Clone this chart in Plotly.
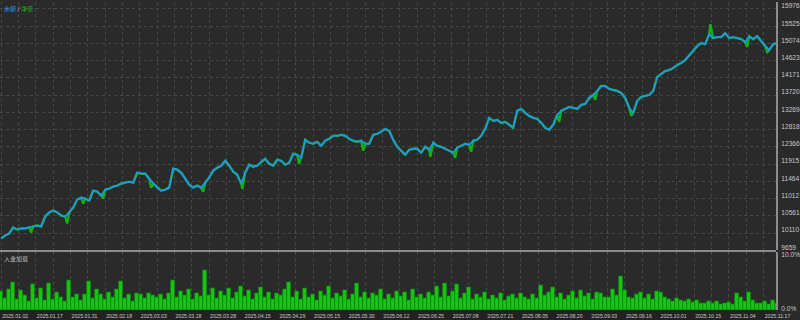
import plotly.graph_objects as go

# ---------------- data ----------------
DATE_LABELS = ["2025.01.02", "2025.01.17", "2025.01.31", "2025.02.18", "2025.03.03",
               "2025.03.18", "2025.03.28", "2025.04.15", "2025.04.29", "2025.05.15",
               "2025.05.30", "2025.06.12", "2025.06.25", "2025.07.08", "2025.07.21",
               "2025.08.05", "2025.08.20", "2025.09.03", "2025.09.16", "2025.10.01",
               "2025.10.15", "2025.11.04", "2025.11.17"]

PRICE_TICKS = ["9659", "10110", "10561", "11012", "11464", "11915", "12366", "12818",
               "13269", "13720", "14171", "14623", "15074", "15525", "15976"]

LOAD_TICKS = [0, 10]
LOAD_TICK_TEXT = ["0.0%", "10.0%"]

BALANCE = [
    9972, 10050, 10102, 10259, 10206, 10233, 10233, 10259, 10285, 10311,
    10285, 10545, 10650, 10702, 10650, 10571, 10545, 10650, 10780, 10989,
    11041, 11015, 10963, 11223, 11197, 11093, 11249, 11275, 11327, 11354,
    11406, 11432, 11458, 11432, 11692, 11666, 11666, 11536, 11406, 11301,
    11223, 11249, 11301, 11797, 11771, 11692, 11536, 11380, 11301, 11354,
    11301, 11432, 11562, 11745, 11823, 11875, 12005, 11875, 11719, 11640,
    11406, 11692, 11901, 11849, 11875, 11979, 12057, 11927, 11875, 12031,
    12005, 11901, 11953, 12188, 12162, 12084, 12553, 12475, 12448, 12501,
    12396, 12527, 12579, 12657, 12657, 12683, 12657, 12579, 12527, 12501,
    12527, 12448, 12448, 12683, 12709, 12761, 12840, 12787, 12553, 12370,
    12266, 12162, 12292, 12318, 12318, 12214, 12370, 12292, 12475, 12396,
    12370, 12318, 12266, 12214, 12344, 12396, 12448, 12422, 12527, 12553,
    12657, 12840, 13126, 13048, 13074, 12996, 13022, 12944, 12866, 13309,
    13361, 13257, 13178, 13126, 13100, 12996, 12866, 12813, 12944, 13205,
    13309, 13361, 13413, 13387, 13361, 13465, 13491, 13648, 13726, 13830,
    13961, 13961, 13882, 13856, 13830, 13778, 13648, 13387, 13257, 13570,
    13674, 13700, 13726, 13830, 14195, 14273, 14352, 14378, 14430, 14508,
    14560, 14638, 14769, 14899, 15003, 15082, 15055, 15316, 15212, 15238,
    15238, 15342, 15212, 15238, 15212, 15186, 15108, 15264, 15186, 15264,
    15134, 15003, 14899, 15055, 15082,
]

# equity deviations from balance (position in bar units, equity value)
EQUITY_DEV_AT = [7.5, 16.5, 20.5, 25.5, 37.5, 50.5, 60.3, 74.5, 90.5, 107.3,
                 113.5, 117.5, 139.5, 148.5, 157.5, 177.3, 186.5, 191.5]
EQUITY_DEV_VAL = [10128, 10363, 10884, 11015, 11301, 11197, 11275, 11927, 12266, 12110,
                  12084, 12240, 13022, 13596, 13178, 15577, 14977, 14847]

DEPOSIT_LOAD = [
    3.5, 2.2, 3.8, 5.0, 2.0, 3.6, 2.6, 1.5, 4.6, 2.2,
    3.9, 1.8, 4.9, 2.0, 3.2, 2.4, 1.6, 5.4, 2.3, 2.9,
    1.7, 2.8, 5.2, 2.1, 3.8, 2.9, 1.9, 3.3, 2.4, 3.8,
    5.3, 2.2, 2.9, 1.6, 3.0, 2.9, 2.1, 3.0, 2.6, 2.3,
    2.8, 1.9, 3.0, 5.5, 2.4, 3.4, 2.6, 3.8, 2.0, 3.1,
    2.5, 7.2, 2.6, 3.9, 2.1, 3.4, 2.7, 4.0, 2.2, 3.2,
    4.3, 2.5, 3.6, 2.0, 3.1, 4.1, 2.4, 3.3, 1.9, 3.0,
    2.6, 3.7, 5.0, 2.3, 3.4, 2.0, 3.9, 2.4, 2.9, 1.8,
    3.5, 2.7, 4.4, 2.2, 3.1, 2.5, 3.6, 2.0, 2.9, 4.9,
    2.3, 3.2, 2.1, 3.0, 2.6, 3.8, 1.9, 2.8, 2.2, 3.4,
    2.5, 3.2, 1.8, 3.7, 2.4, 2.9, 2.1, 3.3, 2.6, 4.4,
    2.3, 4.8, 2.5, 3.5, 4.6, 2.2, 3.0, 4.2, 2.0, 2.8,
    2.3, 3.3, 1.9, 2.6, 2.2, 3.0, 1.8, 2.5, 2.9, 2.1,
    3.1, 2.4, 1.9, 2.8, 2.2, 4.5, 2.6, 3.2, 4.2, 2.3,
    3.0, 2.0, 2.7, 3.4, 2.2, 3.6, 2.5, 3.1, 2.0, 3.3,
    3.0, 2.3, 2.4, 3.8, 2.6, 6.2, 3.6, 2.4, 2.2, 2.9,
    3.3, 2.1, 2.8, 1.9, 3.4, 3.2, 2.4, 2.0, 1.6, 2.2,
    1.7, 1.5, 2.0, 1.4, 1.8, 1.3, 1.2, 1.6, 1.3, 1.5,
    1.1, 1.2, 1.4, 1.0, 3.0, 2.4, 1.6, 3.3, 1.7, 1.3,
    1.2, 1.5, 1.1, 1.8, 1.2,
]

# ---------------- styling / layout constants ----------------
BG = "#2a2a2a"
GRID = "#474747"
AXIS = "#8c8c8c"
TXT = "#c8c8c8"
BLUE = "#2196ea"
GREEN = "#12b012"
BAR_GREEN = "#19c419"
BAR_EDGE = "#0e7e0e"

W, H = 800, 320
M_R, M_B = 24, 10
PLOT_H = H - M_B            # 310 px
UPPER_BOTTOM_PX = 250       # separator
LOWER_TOP_PX = 252
LOAD_TOP_TICK_PX = 255
PX_PER_BAR = 4

n = len(BALANCE)
xs = list(range(n))

# equity line: balance points merged with the deviation points
eq_pts = sorted(list(zip(xs, BALANCE)) + list(zip(EQUITY_DEV_AT, EQUITY_DEV_VAL)))
eq_x = [p[0] for p in eq_pts]
eq_y = [p[1] for p in eq_pts]

price_vals = [int(t) for t in PRICE_TICKS]
lo, hi = price_vals[0], price_vals[-1]
px_per_unit = (UPPER_BOTTOM_PX - 7) / (hi - lo)
upper_top_val = lo + UPPER_BOTTOM_PX / px_per_unit

upper_dom = [(PLOT_H - UPPER_BOTTOM_PX) / PLOT_H, 1.0]
lower_dom = [0.0, (PLOT_H - LOWER_TOP_PX) / PLOT_H]
lower_h = PLOT_H - LOWER_TOP_PX
load_top = 10 * lower_h / (PLOT_H - LOAD_TOP_TICK_PX)

# vertical grid every half label step, labels on every other grid line
label_step_px = 34.65
n_grid = 2 * len(DATE_LABELS) - 1
grid_vals = [k * label_step_px / 2 / PX_PER_BAR for k in range(n_grid)]
grid_text = [DATE_LABELS[k // 2] if k % 2 == 0 else "" for k in range(n_grid)]

fig = go.Figure()
fig.add_trace(go.Scatter(x=eq_x, y=eq_y, mode="lines", line=dict(color=GREEN, width=2.4),
                         xaxis="x", yaxis="y", hoverinfo="skip"))
fig.add_trace(go.Scatter(x=xs, y=BALANCE, mode="lines", line=dict(color=BLUE, width=1.8),
                         xaxis="x", yaxis="y"))
fig.add_trace(go.Bar(x=xs, y=DEPOSIT_LOAD,
                     marker=dict(color=BAR_GREEN, line=dict(width=0.8, color=BAR_EDGE)),
                     xaxis="x2", yaxis="y2"))

xr = [-0.3, (W - M_R) / PX_PER_BAR - 0.3]
common_x = dict(range=xr, tickvals=grid_vals, showgrid=True, gridcolor=GRID, griddash="dot",
                gridwidth=1, zeroline=False, showline=False, ticks="", fixedrange=True)

fig.update_layout(
    width=W, height=H, autosize=False,
    margin=dict(l=0, r=M_R, t=0, b=M_B),
    paper_bgcolor=BG, plot_bgcolor=BG,
    showlegend=False, bargap=0.0,
    font=dict(family="Liberation Sans", size=7, color=TXT),
    xaxis=dict(domain=[0, 1], anchor="y", showticklabels=False, **common_x),
    xaxis2=dict(domain=[0, 1], anchor="y2", matches="x", ticktext=grid_text,
                showticklabels=True, tickfont=dict(size=5.2, color=TXT),
                ticklabelshift=14, ticklabelstandoff=2, **common_x),
    yaxis=dict(domain=upper_dom, anchor="x", side="right", range=[lo, upper_top_val],
               tickvals=price_vals, ticktext=PRICE_TICKS, showgrid=True, gridcolor=GRID,
               griddash="dot", zeroline=False, showline=True, linecolor=AXIS, linewidth=2,
               ticks="", tickfont=dict(size=6.6, color=TXT), ticklabelstandoff=2,
               ticklabelshift=-3),
    yaxis2=dict(domain=lower_dom, anchor="x2", side="right", range=[0, load_top],
                tickvals=LOAD_TICKS, ticktext=LOAD_TICK_TEXT, showgrid=False,
                zeroline=False, showline=True, linecolor=AXIS, linewidth=2,
                ticks="", tickfont=dict(size=6.6, color=TXT), ticklabelstandoff=2,
                ticklabelshift=-1),
)

# panel separator and label strip
sep_y = (PLOT_H - (UPPER_BOTTOM_PX + 0.5)) / PLOT_H
fig.add_shape(type="line", xref="paper", yref="paper", x0=0, x1=1, y0=sep_y, y1=sep_y,
              line=dict(color=AXIS, width=2))
fig.add_shape(type="rect", xref="paper", yref="paper", x0=0, x1=1, y0=-M_B / PLOT_H, y1=0,
              fillcolor="#222222", line=dict(width=0), layer="below")

fig.add_annotation(xref="paper", yref="paper", x=0.002, y=1.0, xanchor="left", yanchor="top",
                   showarrow=False, font=dict(size=6, family="Noto Sans CJK SC"),
                   text=f'<span style="color:{BLUE}">余额</span>'
                        f'<span style="color:#d0d0d0"> / </span>'
                        f'<span style="color:{GREEN}">净值</span>')
fig.add_annotation(xref="paper", yref="paper", x=0.002, y=lower_dom[1], xanchor="left",
                   yanchor="top", showarrow=False,
                   font=dict(size=6, family="Noto Sans CJK SC", color="#bdbdbd"),
                   text="入金加载")

fig.write_html("out.html")
